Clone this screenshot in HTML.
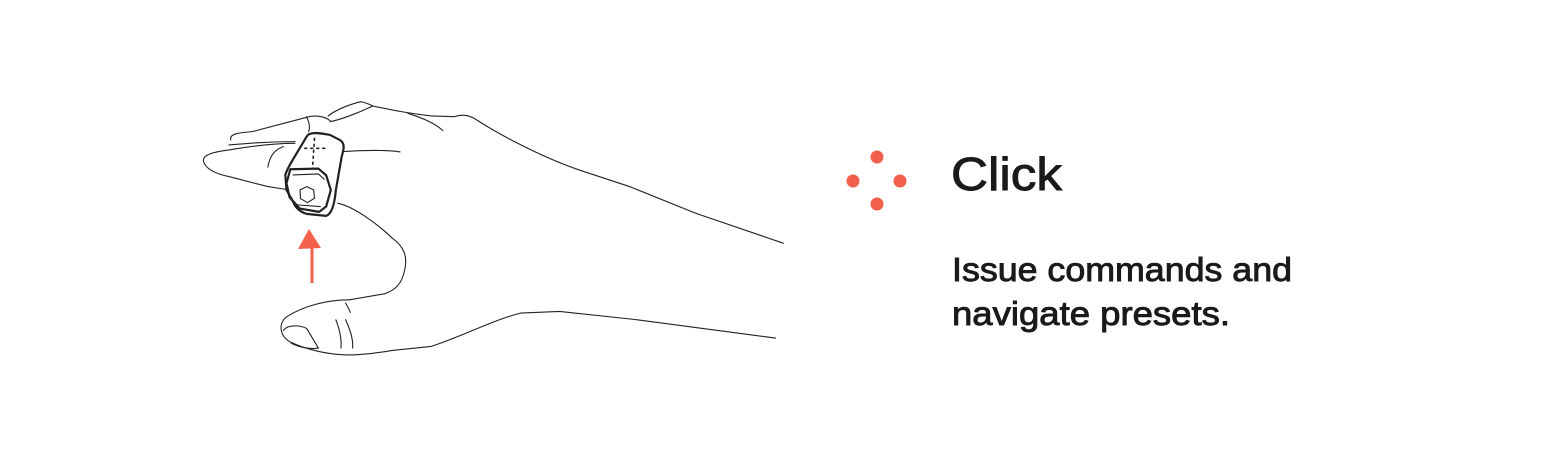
<!DOCTYPE html>
<html><head><meta charset="utf-8"><style>
html,body{margin:0;padding:0;background:#fff;}
svg{display:block;}
</style></head><body>
<svg width="1550" height="460" viewBox="0 0 1550 460" xmlns="http://www.w3.org/2000/svg">
<g transform="translate(190,90) scale(0.389,0.333)" fill="none" stroke="#222" stroke-width="1.1" stroke-linecap="round" stroke-linejoin="round">
 <path vector-effect="non-scaling-stroke" d="M105,150 C100,130 130,128 160,125 L300,82 C320,75 345,78 360,92"/>
 <path vector-effect="non-scaling-stroke" d="M300,80 C305,95 310,110 305,125"/>
 <path vector-effect="non-scaling-stroke" d="M355,78 C380,55 420,40 440,35 C455,40 465,45 470,48 C520,60 560,70 620,78 L680,80 C700,72 720,75 740,92 C790,130 900,200 1000,240 L1130,290 L1300,370 L1525,460"/>
 <path vector-effect="non-scaling-stroke" d="M470,48 C430,70 385,90 360,95"/>
 <path vector-effect="non-scaling-stroke" d="M560,70 C600,85 630,100 650,122"/>
 <path vector-effect="non-scaling-stroke" d="M270,160 C220,160 150,170 100,180 C60,186 30,195 35,215 C40,235 60,250 100,260 L200,290 L245,298"/>
 <path vector-effect="non-scaling-stroke" d="M100,165 C150,160 200,155 270,155"/>
 <path vector-effect="non-scaling-stroke" d="M200,232 C205,200 215,180 240,170"/>
 <path vector-effect="non-scaling-stroke" d="M395,185 C450,180 510,180 540,186"/>
 <path vector-effect="non-scaling-stroke" d="M380,340 C420,350 480,400 520,445 C550,470 560,500 552,540 C545,580 530,600 500,612 L410,630"/>
 <path vector-effect="non-scaling-stroke" d="M410,630 C350,630 290,650 250,680 C225,700 230,740 260,758 C300,780 350,792 390,795 C420,797 470,792 520,782 L620,770 C700,740 780,690 850,670 L950,665 L1150,690 L1505,745"/>
 <path vector-effect="non-scaling-stroke" d="M240,722 C250,705 280,705 300,716 L330,775 C310,780 280,772 260,760"/>
 <path vector-effect="non-scaling-stroke" d="M375,690 C385,720 390,750 388,775"/>
 <path vector-effect="non-scaling-stroke" d="M400,690 C412,720 420,750 418,775"/>
 <path vector-effect="non-scaling-stroke" d="M400,640 C405,650 410,660 412,668"/>
 <path vector-effect="non-scaling-stroke" stroke-width="2.2" d="M300,140 C305,125 330,128 360,135 L385,150 C400,160 395,180 390,200 L375,300 C372,340 365,372 350,378 L300,372 C280,365 270,350 265,335 L248,300 L245,255 C250,238 256,225 265,208 Z"/>
 <path vector-effect="non-scaling-stroke" stroke-width="2.2" d="M258,238 L330,236 L350,256 L362,300 L350,350 L332,366 L282,356 L256,322 L248,280 Z"/>
 <path vector-effect="non-scaling-stroke" d="M265,255 L330,252 L345,268"/>
 <path vector-effect="non-scaling-stroke" d="M275,345 L335,350"/>
 <path vector-effect="non-scaling-stroke" d="M300,290 L318,300 L320,325 L302,338 L284,326 L283,300 Z"/>
 <path vector-effect="non-scaling-stroke" stroke-dasharray="2,4" stroke-width="1.6" d="M320,145 L315,235 M295,175 L355,175"/>
</g>
<path d="M312,283 L312,246" stroke="#f4614a" stroke-width="3"/>
<path d="M298,249 L309,229 L321,248 Z" fill="#f4614a"/>
<g fill="#f4614a">
<circle cx="877" cy="157" r="6.5"/><circle cx="853" cy="181" r="6.5"/><circle cx="900" cy="181" r="6.5"/><circle cx="877" cy="204" r="6.5"/>
</g>
<g font-family="Liberation Sans, sans-serif" fill="#1a1a1a" stroke="#1a1a1a">
<text x="951" y="190" font-size="46" stroke-width="0.9" textLength="111" lengthAdjust="spacingAndGlyphs">Click</text>
<text x="952" y="281" font-size="33" stroke-width="0.9" textLength="340" lengthAdjust="spacingAndGlyphs">Issue commands and</text>
<text x="952" y="325" font-size="33" stroke-width="0.9" textLength="278" lengthAdjust="spacingAndGlyphs">navigate presets.</text>
</g>
</svg>
</body></html>
